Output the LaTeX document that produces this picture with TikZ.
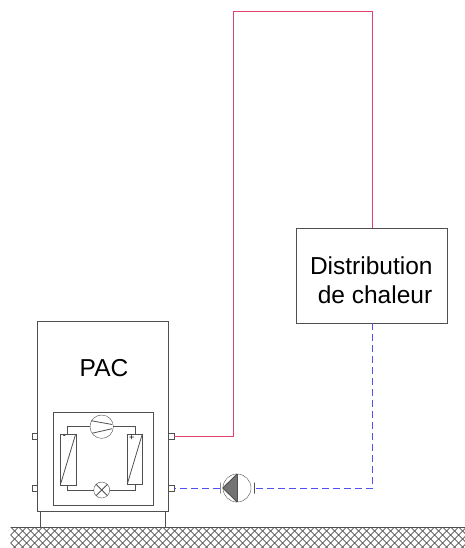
\documentclass[tikz,border=0pt]{standalone}
\usepackage{fontspec}
\setmainfont{Liberation Sans}
\usetikzlibrary{calc}
\definecolor{lin}{HTML}{505050}
\definecolor{hot}{HTML}{E0416F}
\definecolor{cold}{HTML}{5050F0}
\tikzset{
  x=1pt,y=-1pt,
  line width=1pt,
  boxn/.style={draw=lin,rectangle,inner sep=0,outer sep=0,minimum width=#1},
  portn/.style={draw=lin,rectangle,inner sep=0,outer sep=0,minimum width=5.5pt,minimum height=6pt},
  circn/.style={draw=lin,circle,inner sep=0,outer sep=0,minimum size=#1},
  wire/.style={draw=lin,line width=0.9pt},
  thin wire/.style={draw=lin,line width=0.8pt},
  hotline/.style={draw=hot,line width=1pt},
  coldline/.style={draw=cold,line width=1pt,dash pattern=on 7pt off 4pt},
  lab/.style={inner sep=0,outer sep=0,font=\fontsize{24.5}{28}\selectfont,text=black},
  sign/.style={inner sep=0,outer sep=0,font=\fontsize{9}{9}\selectfont,text=black}
}
\begin{document}
\begin{tikzpicture}
\useasboundingbox (0,0) rectangle (465,548);
% ground
\begin{scope}
\clip (10.7,527) rectangle (465,548);
\foreach \k in {-4,...,64}{
  \draw[lin,line width=0.7pt] ({\k*8+2.7},527) -- ({\k*8+26.7},551);
  \draw[lin,line width=0.7pt] ({\k*8+26.7},527) -- ({\k*8+2.7},551);
}
\end{scope}
\coordinate (g1) at (10.7,527);
\coordinate (g2) at (465,527);
\draw[lin,line width=1pt] (g1) -- (g2);
% base and casing
\node[boxn=125pt,minimum height=16pt] (base) at (102.8,519) {};
\node[boxn=131pt,minimum height=190pt,fill=white] (pac) at (102.8,416) {};
\node[boxn=100.6pt,minimum height=92.7pt] (inner) at (103,458.4) {};
\node[lab] (paclab) at (104,368) {PAC};
% ports
\node[portn,fill=white] (pl1) at (34.5,436.3) {};
\node[portn,fill=white] (pl2) at (34.5,488.3) {};
\node[portn,fill=white] (pr1) at (171.2,436.3) {};
\node[portn,fill=white] (pr2) at (171.2,488.3) {};
% circuit
\node[boxn=15.4pt,minimum height=51pt] (hxl) at (68,459.5) {};
\node[boxn=15pt,minimum height=50pt] (hxr) at (134.8,459) {};
\node[circn=23.4pt] (comp) at (101.7,426.7) {};
\node[circn=16pt] (exv) at (101.7,490) {};
\coordinate (cl) at (67.7,426.7);
\coordinate (cr) at (135,426.7);
\coordinate (el) at (67.7,490);
\coordinate (er) at (135,490);
\draw[wire] (comp.west) -- (cl) -- (cl |- hxl.north);
\draw[wire] (comp.east) -- (cr) -- (cr |- hxr.north);
\draw[wire] (exv.west) -- (el) -- (el |- hxl.south);
\draw[wire] (exv.east) -- (er) -- (er |- hxr.south);
\draw[thin wire] (hxl.south west) -- (hxl.north east);
\draw[thin wire] (hxr.south west) -- (hxr.north east);
\node[sign] (minus) at (64.3,437) {-};
\node[sign] (plus) at (131.7,437.7) {+};
% compressor blades
\draw[thin wire] ($(comp.center)+(-10.5,-6)$) -- ($(comp.center)+(10.5,-2.2)$);
\draw[thin wire] ($(comp.center)+(-9.5,6.5)$) -- ($(comp.center)+(10.5,2)$);
% expansion valve cross
\draw[thin wire] (exv.north west) -- (exv.south east);
\draw[thin wire] (exv.north east) -- (exv.south west);
% pump
\node[circn=28pt] (pump) at (237,488) {};
\coordinate (apex) at (222.8,488);
\fill[lin!80] (apex) -- (pump.north) -- (pump.south) -- cycle;
\draw[wire] (pump.north) -- (pump.south);
\draw[wire] (apex) -- (pump.north);
\draw[wire] (apex) -- (pump.south);
\node[draw=lin,line width=0.9pt,inner sep=0,outer sep=0,minimum width=0pt,minimum height=11pt,rectangle] (barl) at (220,488) {};
\node[draw=lin,line width=0.9pt,inner sep=0,outer sep=0,minimum width=0pt,minimum height=11pt,rectangle] (barr) at (254.3,488) {};
% distribution
\node[boxn=150.7pt,minimum height=95.6pt] (dist) at (371.7,275.5) {};
\node[lab] (d1) at (371.3,265.5) {Distribution};
\node[lab] (d2) at (375,295) {de chaleur};
% pipes
\coordinate (h1) at (233.5,436.5);
\coordinate (h2) at (233.5,11.5);
\coordinate (h3) at (372.5,11.5);
\draw[hotline] (pr1.east |- h1) -- (h1) -- (h2) -- (h3) -- (h3 |- dist.north);
\coordinate (c1) at (372.5,488.5);
\draw[coldline] (dist.south -| c1) -- (c1) -- (barr.center |- c1);
\draw[coldline] (barl.center |- c1) -- (pr2.east |- c1);
\end{tikzpicture}
\end{document}
